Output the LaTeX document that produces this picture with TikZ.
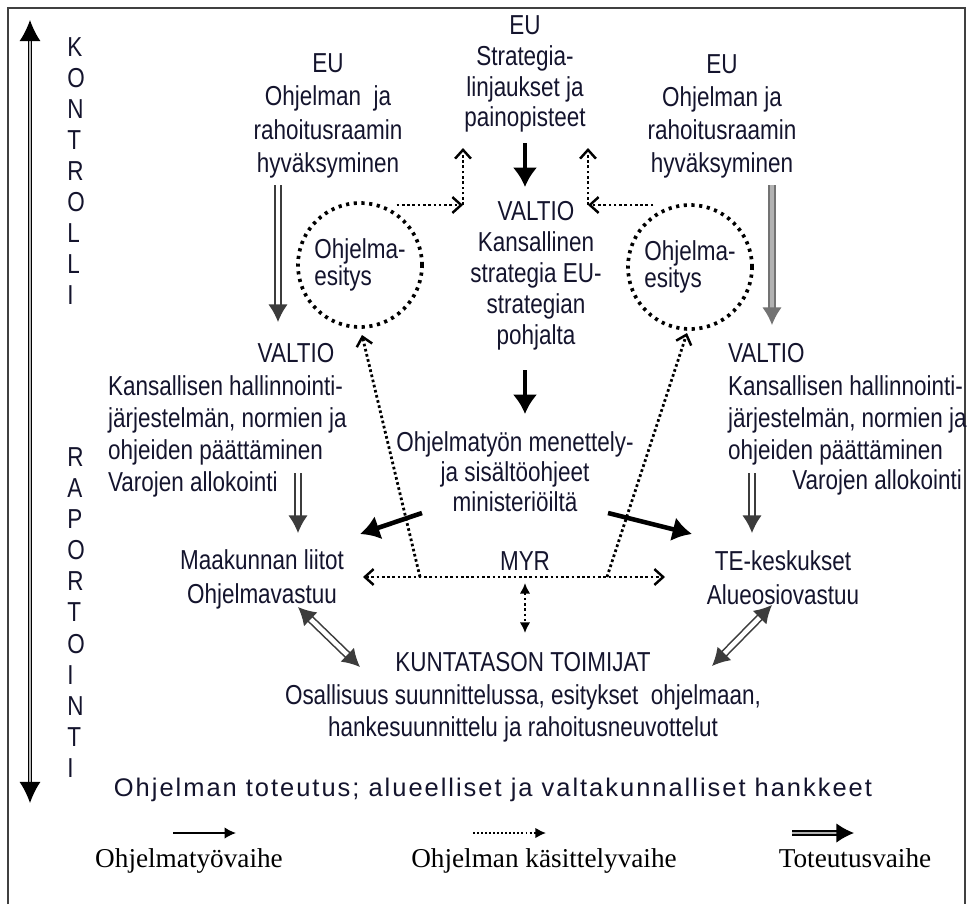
\documentclass[tikz,border=0pt]{standalone}
\usepackage{fontspec}
\setmainfont{Liberation Serif}
\newfontfamily\narrowsf[FakeStretch=0.82]{Liberation Sans}
\newfontfamily\spacedsf[LetterSpace=7.8]{Liberation Sans}
\usepackage{xcolor}
\usepackage{tikz}
\usetikzlibrary{arrows.meta}
\definecolor{ink}{RGB}{20,20,45}
\definecolor{impl}{RGB}{60,60,60}

\begin{document}
\begin{tikzpicture}
  [
    x=0.02cm, y=-0.02cm,
    txt/.style={
       text=ink,
       inner sep=1pt,
       align=center,
       font=\narrowsf\fontsize{15.6}{#1}\selectfont
    },
    txt/.default=18.6,
    vletter/.style={
       text=ink,
       inner sep=0pt,
       anchor=west,
       font=\narrowsf\fontsize{15.6}{18}\selectfont
    },
    leg/.style={
       inner sep=1pt,
       anchor=base,
       font=\fontsize{15.5}{18}\selectfont
    },
    proposal/.style={
       circle,
       draw=black,
       line width=2.1pt,
       dash pattern=on 1.8pt off 2.6pt,
       minimum size=2.48cm,
       inner sep=0pt,
       align=left,
       text=ink,
       font=\narrowsf\fontsize{15.6}{15.3}\selectfont
    },
    work/.style={
       draw=black,
       line width=2.6pt,
       -{Latex[length=11pt,width=14pt]}
    },
    proc/.style={
       draw=black,
       line width=1.6pt,
       dash pattern=on 1.5pt off 1.5pt,
       -{Straight Barb[length=5pt,width=9pt,line width=1.4pt]}
    },
    procboth/.style={
       proc,
       {Straight Barb[length=5pt,width=9pt,line width=1.4pt]}-{Straight Barb[length=5pt,width=9pt,line width=1.4pt]}
    },
    procfill/.style={
       draw=black,
       line width=1.5pt,
       dash pattern=on 1.5pt off 1.5pt,
       -{Latex[length=6pt,width=6pt]}
    },
    impl/.style={
       draw=impl,
       line width=0.9pt,
       double=white,
       double distance=2.6pt,
       -{Latex[length=10pt,width=11pt]}
    },
    implboth/.style={
       impl,
       {Latex[length=10pt,width=11pt]}-{Latex[length=10pt,width=11pt]}
    },
    ctrl/.style={
       draw=black,
       line width=0.7pt,
       double=gray!55,
       double distance=1.4pt,
       {Latex[length=12pt,width=12pt]}-{Latex[length=12pt,width=12pt]}
    }
  ]
  \useasboundingbox (0,0) rectangle (968,904);
  \draw [line width=1pt, black!75] (8,904) -- (8,8) -- (965,8) -- (965,904);

  % side labels
  \coordinate (ctop) at (30,20);
  \coordinate (cbot) at (30,803);
  \draw [ctrl] (cbot) -- (ctop);
  \foreach \l [count=\i from 0] in {K,O,N,T,R,O,L,L,I}
    \node[vletter] (kon\i) at (67,47+31*\i) {\l};
  \foreach \l [count=\i from 0] in {R,A,P,O,R,T,O,I,N,T,I}
    \node[vletter] (rap\i) at (67,457+31.1*\i) {\l};

  % EU level
  \node[txt=17.6] (euC) at (525,74)    {EU\\Strategia-\\linjaukset ja\\painopisteet};
  \node[txt=18.9] (euL) at (328,116)   {EU\\Ohjelman\ \ ja\\rahoitusraamin\\hyväksyminen};
  \node[txt=18.9] (euR) at (722,116.5) {EU\\Ohjelman ja\\rahoitusraamin\\hyväksyminen};

  % state level
  \node[txt=17.7] (valC) at (536,275.5) {VALTIO\\Kansallinen\\strategia EU-\\strategian\\pohjalta};
  \node[proposal] (ohjL) at (360,265) {Ohjelma-\\esitys};
  \node[proposal] (ohjR) at (690,267) {Ohjelma-\\esitys};
  \node[txt] (valLh) at (296,353) {VALTIO};
  \node[txt=18.3, anchor=west, align=left] (valLt) at (106,436.5)
    {Kansallisen hallinnointi-\\järjestelmän, normien ja\\ohjeiden päättäminen\\Varojen allokointi};
  \node[txt, anchor=west] (valRh) at (726,353) {VALTIO};
  \node[txt=18.3, anchor=west, align=left] (valRt) at (726,420.5)
    {Kansallisen hallinnointi-\\järjestelmän, normien ja\\ohjeiden päättäminen};
  \node[txt, anchor=east] (varoR) at (964,482) {Varojen allokointi};
  \node[txt=17] (ohjtyo) at (515,472) {Ohjelmatyön menettely-\\ja sisältöohjeet\\ministeriöiltä};

  % regional level
  \node[txt=19] (maak) at (262,579.5) {Maakunnan liitot\\Ohjelmavastuu};
  \node[txt] (myr) at (525,561) {MYR};
  \node[txt=19.5] (te) at (783,577.5) {TE-keskukset\\Alueosiovastuu};
  \node[txt=18.4] (kunta) at (523,697.5)
    {KUNTATASON TOIMIJAT\\Osallisuus suunnittelussa, esitykset\ \ ohjelmaan,\\hankesuunnittelu ja rahoitusneuvottelut};
  \node[text=ink, inner sep=1pt, font=\spacedsf\fontsize{14.5}{18}\selectfont] (tot) at (493,789.5)
    {Ohjelman toteutus; alueelliset ja valtakunnalliset hankkeet};

  % legend
  \node[leg] (legWork) at (189,867) {Ohjelmatyövaihe};
  \node[leg] (legProc) at (544,867) {Ohjelman käsittelyvaihe};
  \node[leg] (legImpl) at (855,867) {Toteutusvaihe};

  % connector end points
  \coordinate (cL) at (463,205);
  \coordinate (cR) at (588,205);
  \coordinate (mL) at (363,577);
  \coordinate (mR) at (665,577);
  \coordinate (dL) at (420,577);
  \coordinate (dR) at (607,577);

  % programme work
  \draw [work] (525,143) -- (525,187);
  \draw [work] (525,370) -- (525,414);
  \draw [work] (422,513) -- (360,534);
  \draw [work] (608,513) -- (692,534);

  % programme handling
  \draw [proc] (ohjL.55 |- cL) -- (cL);
  \draw [proc] (cL) -- (463,148);
  \draw [proc] (ohjR.125 |- cR) -- (cR);
  \draw [proc] (cR) -- (588,148);
  \draw [procboth] (mL) -- (mR);
  \draw [proc] (dL) -- (362,335);
  \draw [proc] (dR) -- (687,333);
  \draw [procfill, {Latex[length=6pt,width=6pt]}-{Latex[length=6pt,width=6pt]}] (525,583) -- (525,633);

  % implementation
  \draw [impl] (278,185) -- (278,322);
  \draw [impl, draw=gray!90!black, double=gray!60] (772,185) -- (772,325);
  \draw [impl] (298,473) -- (298,533);
  \draw [impl] (752,473) -- (752,533);
  \draw [implboth] (298,607) -- (360,667);
  \draw [implboth] (772,605) -- (712,666);

  % legend arrows
  \draw [black, line width=0.9pt, -{Latex[length=6.5pt,width=6.5pt]}] (173,833) -- (236,833);
  \draw [procfill, line width=1.1pt, dash pattern=on 1.1pt off 1.2pt] (473,833) -- (546,833);
  \draw [impl, draw=black, double=gray!60, line width=0.8pt, double distance=1.6pt] (792,833) -- (854,833);
\end{tikzpicture}
\end{document}
